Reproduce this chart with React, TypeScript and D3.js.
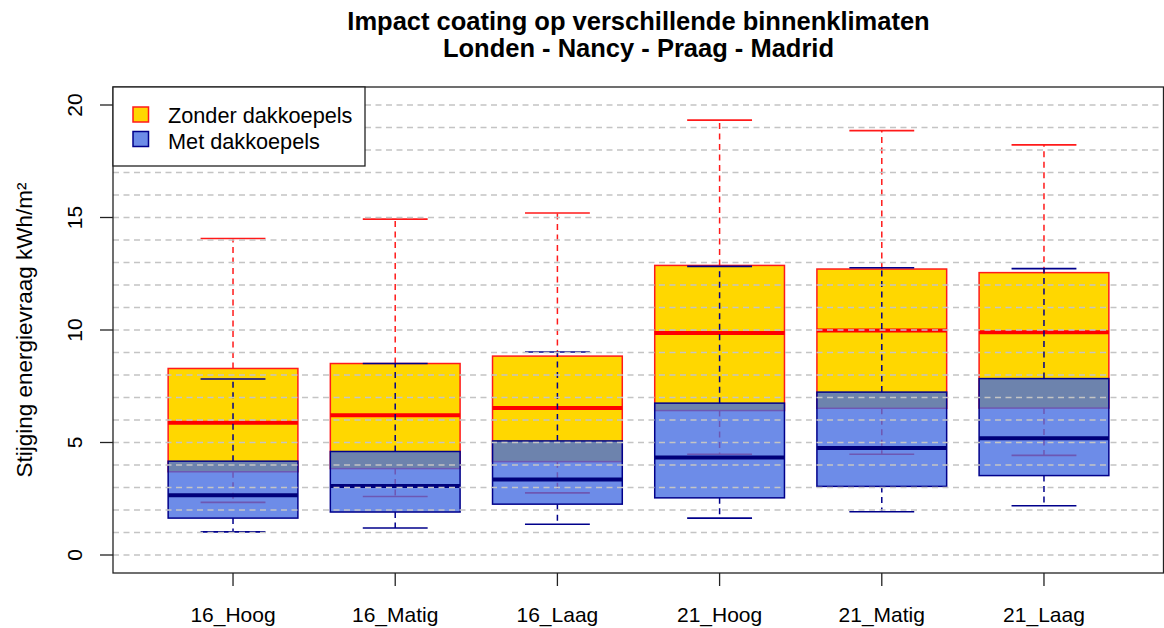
import React from "react";
import * as d3 from "d3";

// Categories on the x axis
const categories = ["16_Hoog", "16_Matig", "16_Laag", "21_Hoog", "21_Matig", "21_Laag"];

// "Zonder dakkoepels" box statistics (kWh/m²)
const zonderLow = [2.34, 2.6, 2.76, 4.48, 4.48, 4.43];
const zonderQ1 = [3.7, 3.84, 4.15, 6.42, 6.52, 6.53];
const zonderMed = [5.88, 6.21, 6.53, 9.87, 9.98, 9.9];
const zonderQ3 = [8.29, 8.51, 8.84, 12.87, 12.71, 12.55];
const zonderHigh = [14.07, 14.93, 15.2, 19.33, 18.86, 18.23];

// "Met dakkoepels" box statistics (kWh/m²)
const metLow = [1.03, 1.2, 1.37, 1.64, 1.92, 2.19];
const metQ1 = [1.64, 1.91, 2.26, 2.54, 3.05, 3.53];
const metMed = [2.66, 3.07, 3.36, 4.33, 4.76, 5.19];
const metQ3 = [4.17, 4.6, 5.07, 6.75, 7.24, 7.84];
const metHigh = [7.82, 8.51, 9.02, 12.83, 12.77, 12.73];

const yTicks = [0, 5, 10, 15, 20];
const gridValues = d3.range(0, 21);

const title1 = "Impact coating op verschillende binnenklimaten";
const title2 = "Londen - Nancy - Praag - Madrid";
const yLabel = "Stijging energievraag kWh/m²";
const legendLabels = ["Zonder dakkoepels", "Met dakkoepels"];

const W = 1164;
const H = 628;
const plot = { left: 113, right: 1164, top: 87, bottom: 573 };
const FONT = "'Liberation Sans', Arial, Helvetica, sans-serif";

type Series = {
  low: number[];
  q1: number[];
  med: number[];
  q3: number[];
  high: number[];
  fill: string;
  fillOpacity: number;
  border: string;
  medColor: string;
};

const series: Series[] = [
  {
    low: zonderLow, q1: zonderQ1, med: zonderMed, q3: zonderQ3, high: zonderHigh,
    fill: "#FFD700", fillOpacity: 1, border: "#ff1a1a", medColor: "#ff0000",
  },
  {
    low: metLow, q1: metQ1, med: metMed, q3: metQ3, high: metHigh,
    fill: "#4169E1", fillOpacity: 0.77, border: "#00008B", medColor: "#00007a",
  },
];

export default function App() {
  const x = d3.scaleLinear().domain([0.26, categories.length + 0.74]).range([plot.left, plot.right]);
  const y = d3.scaleLinear().domain([-0.8, 20.8]).range([plot.bottom, plot.top]);
  const unit = x(1) - x(0);
  const boxHalf = 0.4 * unit;
  const capHalf = 0.2 * unit;

  return (
    <svg
      width={W}
      height={H}
      style={{ position: "absolute", left: 0, top: 0, background: "#fff" }}
      fontFamily={FONT}
    >
      <rect x={0} y={0} width={W} height={H} fill="#fff" />

      {series.map((s, si) => (
        <g key={si}>
          {categories.map((c, i) => {
            const cx = x(i + 1);
            return (
              <g key={c}>
                {/* whiskers */}
                <line x1={cx} x2={cx} y1={y(s.q3[i])} y2={y(s.high[i])} stroke={s.border} strokeWidth={1.5} strokeDasharray="6,4.5" />
                <line x1={cx} x2={cx} y1={y(s.q1[i])} y2={y(s.low[i])} stroke={s.border} strokeWidth={1.5} strokeDasharray="6,4.5" />
                {/* staples */}
                <line x1={cx - capHalf} x2={cx + capHalf} y1={y(s.high[i])} y2={y(s.high[i])} stroke={s.border} strokeWidth={1.6} />
                <line x1={cx - capHalf} x2={cx + capHalf} y1={y(s.low[i])} y2={y(s.low[i])} stroke={s.border} strokeWidth={1.6} />
                {/* box */}
                <rect
                  x={cx - boxHalf}
                  y={y(s.q3[i])}
                  width={2 * boxHalf}
                  height={y(s.q1[i]) - y(s.q3[i])}
                  fill={s.fill}
                  fillOpacity={s.fillOpacity}
                  stroke={s.border}
                  strokeWidth={1.5}
                />
                {/* median */}
                <line x1={cx - boxHalf} x2={cx + boxHalf} y1={y(s.med[i])} y2={y(s.med[i])} stroke={s.medColor} strokeWidth={4} />
              </g>
            );
          })}
        </g>
      ))}

      {/* horizontal grid */}
      {gridValues.map((v) => (
        <line key={v} x1={plot.left} x2={plot.right} y1={y(v)} y2={y(v)} stroke="#c4c4c4" strokeWidth={1.3} strokeDasharray="6,4.5" />
      ))}

      {/* plot frame */}
      <rect x={plot.left} y={plot.top} width={plot.right - plot.left - 0.5} height={plot.bottom - plot.top} fill="none" stroke="#222" strokeWidth={1.3} />

      {/* y axis */}
      {yTicks.map((t) => (
        <g key={t}>
          <line x1={plot.left - 13} x2={plot.left} y1={y(t)} y2={y(t)} stroke="#222" strokeWidth={1.3} />
          <text transform={`translate(82,${y(t)}) rotate(-90)`} textAnchor="middle" fontSize={21}>{t}</text>
        </g>
      ))}

      {/* x axis */}
      {categories.map((c, i) => (
        <g key={c}>
          <line x1={x(i + 1)} x2={x(i + 1)} y1={plot.bottom} y2={plot.bottom + 13} stroke="#222" strokeWidth={1.3} />
          <text x={x(i + 1)} y={622} textAnchor="middle" fontSize={21}>{c}</text>
        </g>
      ))}

      {/* axis title */}
      <text transform={`translate(32,${(plot.top + plot.bottom) / 2}) rotate(-90)`} textAnchor="middle" fontSize={22.5}>{yLabel}</text>

      {/* chart title */}
      <text x={(plot.left + plot.right) / 2} y={30} textAnchor="middle" fontSize={25.5} fontWeight="bold">{title1}</text>
      <text x={(plot.left + plot.right) / 2} y={57} textAnchor="middle" fontSize={25.5} fontWeight="bold">{title2}</text>

      {/* legend */}
      <g>
        <rect x={plot.left} y={plot.top} width={252} height={79} fill="#fff" stroke="#222" strokeWidth={1.3} />
        {series.map((s, si) => (
          <g key={si}>
            <rect x={133} y={107 + si * 24.5} width={15.5} height={15} fill={s.fill} fillOpacity={s.fillOpacity} stroke={s.border} strokeWidth={1.5} />
            <text x={168} y={123 + si * 25.5} fontSize={21.7}>{legendLabels[si]}</text>
          </g>
        ))}
      </g>
    </svg>
  );
}
